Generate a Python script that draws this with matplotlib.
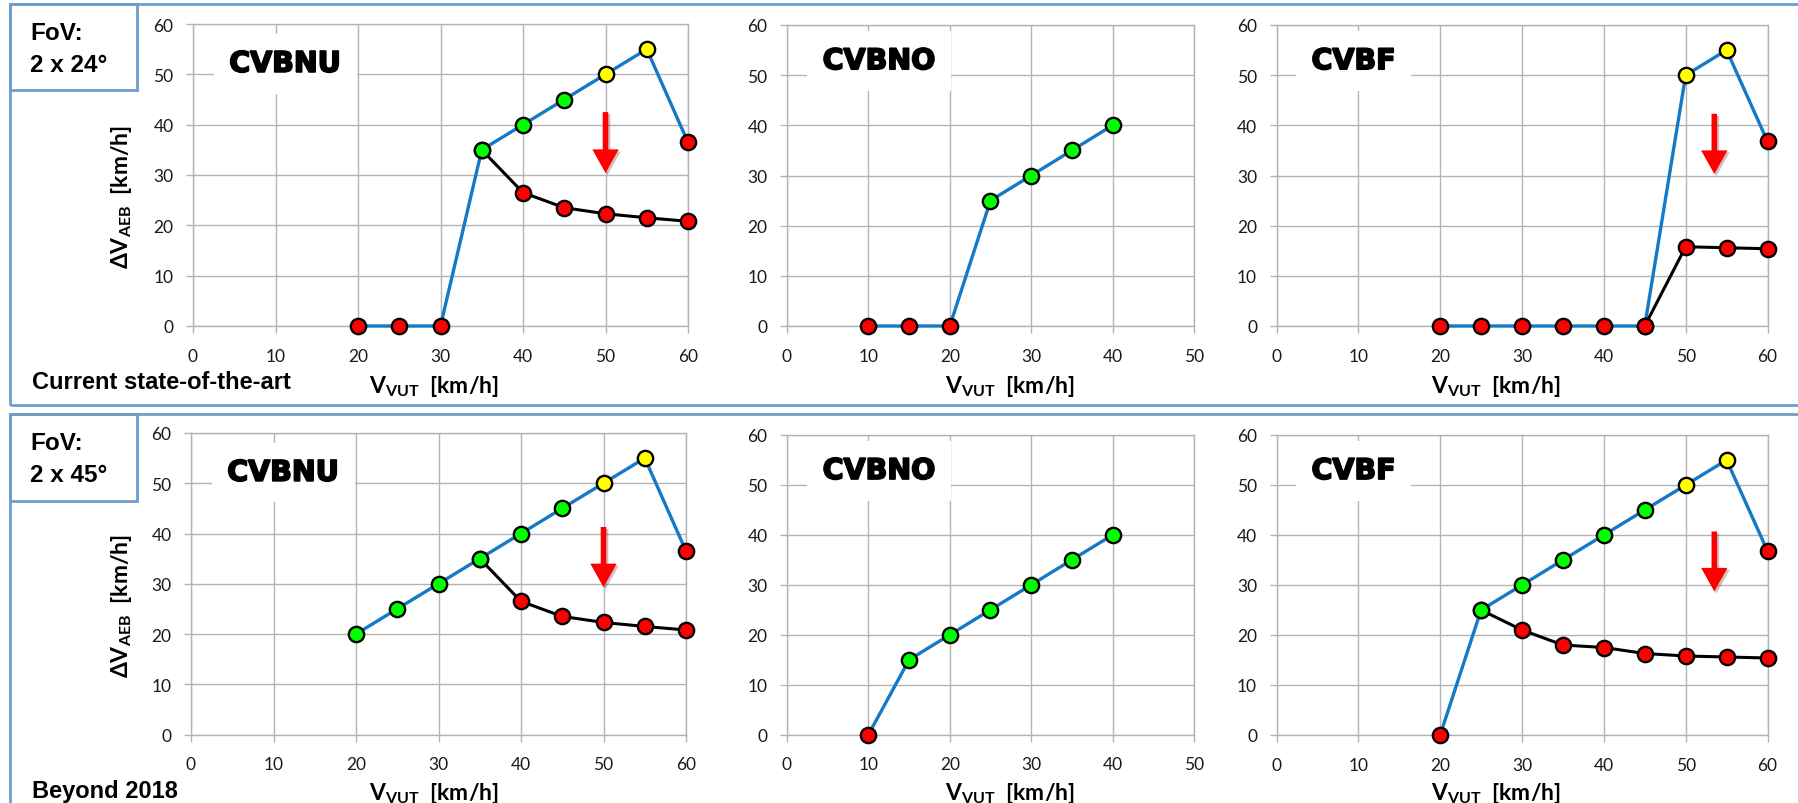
import matplotlib
matplotlib.use("Agg")
import matplotlib.pyplot as plt
from matplotlib.patches import Rectangle
import matplotlib.patheffects as pe

plt.rcParams['font.family'] = ['Lato', 'DejaVu Sans']
plt.rcParams['mathtext.fontset'] = 'custom'
plt.rcParams['mathtext.rm'] = 'Lato'
plt.rcParams['mathtext.bf'] = 'Lato:bold'
plt.rcParams['mathtext.it'] = 'Lato:italic'

# ---------------- data ----------------
# status colour codes: r = red (collision), g = green (avoided), y = yellow (mitigated)
# Top row: FoV 2 x 24 deg (current state-of-the-art)
t_cvbnu_x = [20, 25, 30, 35, 40, 45, 50, 55, 60]
t_cvbnu_blue = [0, 0, 0, 35, 40, 45, 50, 55, 36.5]
t_cvbnu_blue_s = ['r', 'r', 'r', 'g', 'g', 'g', 'y', 'y', 'r']
t_cvbnu_bx = [35, 40, 45, 50, 55, 60]
t_cvbnu_black = [35, 26.5, 23.5, 22.3, 21.5, 20.8]
t_cvbnu_black_s = ['g', 'r', 'r', 'r', 'r', 'r']

t_cvbno_x = [10, 15, 20, 25, 30, 35, 40]
t_cvbno_blue = [0, 0, 0, 25, 30, 35, 40]
t_cvbno_blue_s = ['r', 'r', 'r', 'g', 'g', 'g', 'g']

t_cvbf_x = [20, 25, 30, 35, 40, 45, 50, 55, 60]
t_cvbf_blue = [0, 0, 0, 0, 0, 0, 50, 55, 36.8]
t_cvbf_blue_s = ['r', 'r', 'r', 'r', 'r', 'r', 'y', 'y', 'r']
t_cvbf_bx = [45, 50, 55, 60]
t_cvbf_black = [0, 15.8, 15.6, 15.4]
t_cvbf_black_s = ['r', 'r', 'r', 'r']

# Bottom row: FoV 2 x 45 deg (beyond 2018)
b_cvbnu_x = [20, 25, 30, 35, 40, 45, 50, 55, 60]
b_cvbnu_blue = [20, 25, 30, 35, 40, 45, 50, 55, 36.5]
b_cvbnu_blue_s = ['g', 'g', 'g', 'g', 'g', 'g', 'y', 'y', 'r']
b_cvbnu_bx = [35, 40, 45, 50, 55, 60]
b_cvbnu_black = [35, 26.5, 23.5, 22.3, 21.5, 20.8]
b_cvbnu_black_s = ['g', 'r', 'r', 'r', 'r', 'r']

b_cvbno_x = [10, 15, 20, 25, 30, 35, 40]
b_cvbno_blue = [0, 15, 20, 25, 30, 35, 40]
b_cvbno_blue_s = ['r', 'g', 'g', 'g', 'g', 'g', 'g']

b_cvbf_x = [20, 25, 30, 35, 40, 45, 50, 55, 60]
b_cvbf_blue = [0, 25, 30, 35, 40, 45, 50, 55, 36.8]
b_cvbf_blue_s = ['r', 'g', 'g', 'g', 'g', 'g', 'y', 'y', 'r']
b_cvbf_bx = [25, 30, 35, 40, 45, 50, 55, 60]
b_cvbf_black = [25, 21, 18, 17.5, 16.3, 15.8, 15.6, 15.4]
b_cvbf_black_s = ['g', 'r', 'r', 'r', 'r', 'r', 'r', 'r']

scenario_names = ['CVBNU', 'CVBNO', 'CVBF']
x_limits = [60, 50, 60]
y_ticks = [0, 10, 20, 30, 40, 50, 60]
row_fov = ['2 x 24°', '2 x 45°']
row_notes = ['Current state-of-the-art', 'Beyond 2018']
# arrow (x, y_start, y_end) in data units, per panel (None = no arrow)
t_arrows = [(50, 42.5, 30.4), None, (53.5, 42.3, 30.3)]
b_arrows = [(50, 41.3, 29.3), None, (53.5, 40.7, 28.7)]

# ---------------- styling ----------------
STATUS_COL = {'r': '#FF0000', 'g': '#00FF00', 'y': '#FFFF00'}
BLUE = '#1479C6'
GRID = '#B4B4B4'
FRAME = '#6E9FCC'
TICKC = '#1A1A1A'
ARIAL = ['Liberation Sans', 'DejaVu Sans']

W, H = 1798, 804
fig = plt.figure(figsize=(W / 100, H / 100), dpi=100)


def px_axes(l, r, t, b):
    return fig.add_axes([l / W, 1 - b / H, (r - l) / W, (b - t) / H])


# frames (figure pixel coordinates)
def frame(x0, y0, x1, y1):
    fig.patches.append(Rectangle((x0 / W, 1 - y1 / H), (x1 - x0) / W, (y1 - y0) / H,
                                 transform=fig.transFigure, fill=False,
                                 edgecolor=FRAME, lw=2.0, zorder=0))


frame(10, 5, 1810, 406)
frame(10, 415, 1810, 830)
frame(10, 5, 137, 91)
frame(10, 415, 137, 502)

boxes = [
    [(193, 688, 25, 327), (787, 1194, 26, 327), (1276.5, 1767.5, 26, 327)],
    [(191, 686, 434, 735.5), (787, 1194, 436, 735.7), (1276.5, 1767.5, 436, 736)],
]

rows = [
    [(t_cvbnu_x, t_cvbnu_blue, t_cvbnu_blue_s, t_cvbnu_bx, t_cvbnu_black, t_cvbnu_black_s),
     (t_cvbno_x, t_cvbno_blue, t_cvbno_blue_s, None, None, None),
     (t_cvbf_x, t_cvbf_blue, t_cvbf_blue_s, t_cvbf_bx, t_cvbf_black, t_cvbf_black_s)],
    [(b_cvbnu_x, b_cvbnu_blue, b_cvbnu_blue_s, b_cvbnu_bx, b_cvbnu_black, b_cvbnu_black_s),
     (b_cvbno_x, b_cvbno_blue, b_cvbno_blue_s, None, None, None),
     (b_cvbf_x, b_cvbf_blue, b_cvbf_blue_s, b_cvbf_bx, b_cvbf_black, b_cvbf_black_s)],
]
arrows = [t_arrows, b_arrows]
title_pos = [(0.186, 0.868), (0.226, 0.88), (0.157, 0.88)]
xlabel_x = [434, 1010, 1496]
xlabel_base = [393, 800]


def markers(ax, xs, ys, st):
    for xv, yv, s in zip(xs, ys, st):
        ax.plot([xv], [yv], 'o', ms=11, mfc=STATUS_COL[s], mec='black', mew=1.7,
                zorder=5, clip_on=False)


for r in range(2):
    for c in range(3):
        ax = px_axes(*boxes[r][c])
        bx, by, bs, kx, ky, ks = rows[r][c]
        xmax = x_limits[c]
        ax.set_xlim(0, xmax)
        ax.set_ylim(0, 60)
        ax.set_xticks(list(range(0, xmax + 1, 10)))
        ax.set_yticks(y_ticks)
        ax.grid(True, color=GRID, lw=1.0)
        ax.set_axisbelow(True)
        for sp in ax.spines.values():
            sp.set_color(GRID)
            sp.set_linewidth(1.0)
        ax.tick_params(direction='out', length=5, width=1.0, color=GRID,
                       labelsize=12.5, labelcolor=TICKC)
        ax.tick_params(axis='x', pad=10.5)
        ax.tick_params(axis='y', pad=9)

        ax.plot(bx, by, '-', color=BLUE, lw=2.4, zorder=3, clip_on=False)
        if kx is not None:
            ax.plot(kx, ky, '-', color='black', lw=2.2, zorder=3, clip_on=False)
            markers(ax, kx, ky, ks)
        markers(ax, bx, by, bs)

        tx, ty = title_pos[c]
        ax.text(tx, ty, scenario_names[c], transform=ax.transAxes, ha='center', va='center',
                fontsize=20.5, fontweight='bold', family='DejaVu Sans', zorder=2,
                path_effects=[pe.withStroke(linewidth=1.3, foreground='black')],
                bbox=dict(boxstyle='square,pad=0.55', fc='white', ec='none'))

        arr = arrows[r][c]
        if arr is not None:
            axv, y0, y1 = arr
            ax.annotate('', xy=(axv, y1), xytext=(axv, y0),
                        arrowprops=dict(arrowstyle='simple,head_length=0.85,head_width=0.95,tail_width=0.2',
                                        mutation_scale=20, fc='#FF0000', ec='none',
                                        shrinkA=0, shrinkB=0,
                                        path_effects=[pe.withSimplePatchShadow(offset=(1.5, -1.5),
                                                                               alpha=0.25)]),
                        zorder=4)

        fig.text(xlabel_x[c] / W, 1 - xlabel_base[r] / H,
                 r'$\mathbf{V}_{\mathbf{VUT}}$  [km/h]', ha='center', va='baseline',
                 fontsize=16.5, fontweight='bold', color='black')

    # y label on left panels
    yc = [197, 606][r]
    fig.text(122 / W, 1 - yc / H, r'$\mathbf{\Delta V}_{\mathbf{AEB}}$  [km/h]',
             rotation=90, ha='center', va='center', fontsize=16.5, fontweight='bold')

    # FoV texts
    fy = [40, 450][r]
    fig.text(30 / W, 1 - fy / H, 'FoV:', ha='left', va='baseline', fontsize=17.5,
             fontweight='bold', family=ARIAL)
    fig.text(30 / W, 1 - (fy + 32) / H, row_fov[r], ha='left', va='baseline',
             fontsize=17.5, fontweight='bold', family=ARIAL)
    ny = [389, 798][r]
    fig.text(32 / W, 1 - ny / H, row_notes[r], ha='left', va='baseline', fontsize=17,
             fontweight='bold', family=ARIAL)

fig.savefig('out.png', dpi=100)
